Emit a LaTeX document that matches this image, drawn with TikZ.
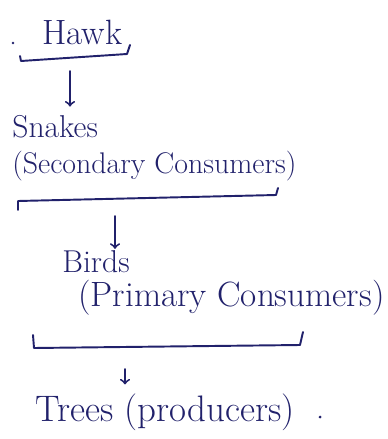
\documentclass[tikz,border=0pt]{standalone}
\usepackage{tikz}
\usetikzlibrary{arrows}
\usetikzlibrary{positioning}
\usetikzlibrary{calc}
\definecolor{inkblue}{rgb}{0.13, 0.13, 0.42}

\begin{document}
\begin{tikzpicture}[x=0.02cm, y=-0.02cm, ink/.style={draw=inkblue, line width=1.1pt, line cap=round, line join=round}, word/.style={inkblue, anchor=west, inner sep=0pt, font=\fontsize{#1}{#1}\selectfont}, word/.default=17, feeds/.style={ink, ->, shorten >=5pt}]
    \useasboundingbox (0, 0) rectangle (387, 439);

    \node [word=20] (hawk) at (42, 32) {Hawk};
    \node [word=18] (snakes) at (12, 127) {Snakes};
    \node [word] (secondary) at (12, 166) {(Secondary Consumers)};
    \node [word=18] (birds) at (62, 262) {Birds};
    \node [word=20] (primary) at (78, 298) {(Primary Consumers)};
    \node [word=21] (trees) at (35, 412) {Trees (producers)};

    \draw [ink] (20, 56) -- (21, 61) -- (127, 54) -- (130, 45);
    \draw [ink] (18, 210) -- (18, 201) -- (276, 195) -- (278, 188);
    \draw [ink] (33, 335) -- (34, 348) -- (300, 345) -- (303, 332);

    \coordinate (hawkbar) at (70, 71);
    \coordinate (snakebar) at (115, 216);
    \coordinate (birdbar) at (125, 369);

    \draw [feeds] (hawkbar) -- (hawkbar |- snakes.north);
    \draw [feeds, shorten >=1pt] (snakebar) -- (snakebar |- birds.north);
    \draw [feeds] (birdbar) -- (birdbar |- trees.north);

    \fill [inkblue] (13, 43) circle (1.3);
    \fill [inkblue] (320, 417) circle (1.5);
  \end{tikzpicture}
\end{document}
